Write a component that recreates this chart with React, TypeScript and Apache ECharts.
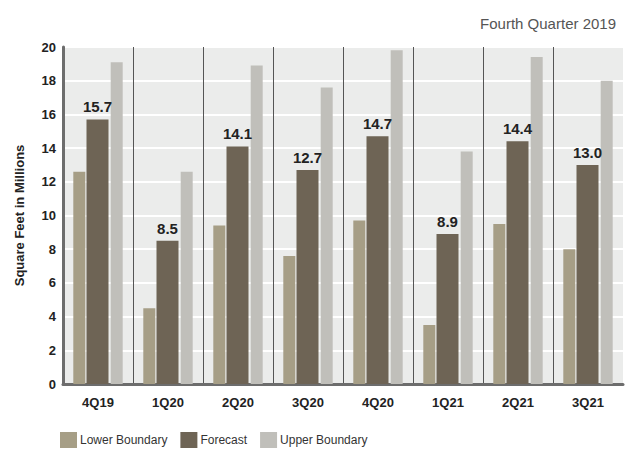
import React, { useEffect, useRef } from "react";
import * as echarts from "echarts";

const categories = ["4Q19", "1Q20", "2Q20", "3Q20", "4Q20", "1Q21", "2Q21", "3Q21"];
const lowerBoundary = [12.6, 4.5, 9.4, 7.6, 9.7, 3.5, 9.5, 8.0];
const forecast = [15.7, 8.5, 14.1, 12.7, 14.7, 8.9, 14.4, 13.0];
const upperBoundary = [19.1, 12.6, 18.9, 17.6, 19.8, 13.8, 19.4, 18.0];
const seriesNames = ["Lower Boundary", "Forecast", "Upper Boundary"];
const yTicks = { min: 0, max: 20, interval: 2 };

const FONT = "'Liberation Sans', Arial, sans-serif";

export default function App() {
  const ref = useRef<HTMLDivElement>(null);
  useEffect(() => {
    if (!ref.current) return;
    const chart = echarts.init(ref.current, undefined, { renderer: "svg" });
    chart.setOption({
      animation: false,
      backgroundColor: "#ffffff",
      title: {
        text: "Fourth Quarter 2019",
        right: 12,
        top: 11,
        textStyle: { fontFamily: FONT, fontSize: 15, fontWeight: "normal", color: "#555555" },
      },
      legend: {
        left: 60,
        top: 432,
        padding: 0,
        itemWidth: 17,
        itemHeight: 16,
        itemGap: 13,
        icon: "rect",
        data: seriesNames,
        textStyle: { fontFamily: FONT, fontSize: 12, color: "#333333", padding: [0, 0, 0, -2] },
      },
      grid: {
        left: 63,
        right: 10,
        top: 47,
        bottom: 65,
        show: true,
        backgroundColor: "#ebeceb",
        borderWidth: 0,
      },
      xAxis: {
        type: "category",
        data: categories,
        axisLine: { show: true, lineStyle: { color: "#6d6d6d", width: 3 } },
        axisTick: { show: false },
        axisLabel: {
          fontFamily: FONT,
          fontWeight: "bold",
          fontSize: 13,
          color: "#222222",
          margin: 12,
        },
        splitLine: {
          show: true,
          showMinLine: false,
          showMaxLine: false,
          lineStyle: { color: "#555555", width: 1 },
        },
      },
      yAxis: {
        type: "value",
        min: yTicks.min,
        max: yTicks.max,
        interval: yTicks.interval,
        name: "Square Feet in Millions",
        nameLocation: "middle",
        nameGap: 37,
        nameTextStyle: { fontFamily: FONT, fontWeight: "bold", fontSize: 13, color: "#222222" },
        axisLine: { show: true, lineStyle: { color: "#6d6d6d", width: 3 } },
        axisTick: { show: false },
        axisLabel: {
          fontFamily: FONT,
          fontWeight: "bold",
          fontSize: 13,
          color: "#222222",
          margin: 7,
        },
        splitLine: { show: true, lineStyle: { color: "#ffffff", width: 2 } },
      },
      series: [
        {
          name: seriesNames[0],
          type: "bar",
          data: lowerBoundary,
          barWidth: 12,
          barGap: "10%",
          itemStyle: { color: "#a69e86" },
        },
        {
          name: seriesNames[1],
          type: "bar",
          data: forecast,
          barWidth: 22,
          barGap: "10%",
          itemStyle: { color: "#6e6455" },
          label: {
            show: true,
            position: "top",
            distance: 5,
            formatter: (p: any) => Number(p.value).toFixed(1),
            fontFamily: FONT,
            fontWeight: "bold",
            fontSize: 15,
            color: "#222222",
          },
        },
        {
          name: seriesNames[2],
          type: "bar",
          data: upperBoundary,
          barWidth: 12,
          barGap: "10%",
          itemStyle: { color: "#c0bfba" },
        },
      ],
    });
    return () => chart.dispose();
  }, []);
  return (
    <div
      ref={ref}
      style={{ position: "fixed", left: 0, top: 0, width: 633, height: 449 }}
    />
  );
}
